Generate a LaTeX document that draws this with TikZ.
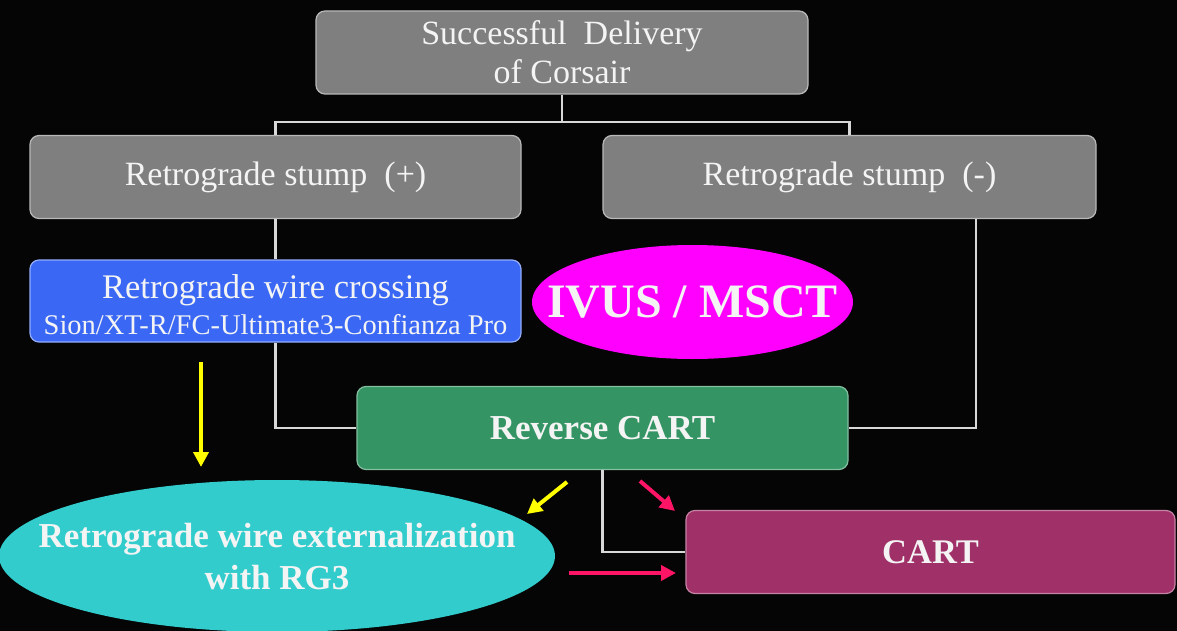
\documentclass[tikz,border=0pt]{standalone}
\usepackage{fontspec}
\setmainfont{Liberation Serif}
\usetikzlibrary{shapes.geometric,arrows.meta}
\definecolor{bg}{HTML}{050505}
\definecolor{boxgray}{HTML}{7F7F7F}
\definecolor{boxblue}{HTML}{3A68F5}
\definecolor{boxgreen}{HTML}{349463}
\definecolor{boxmaroon}{HTML}{A03068}
\definecolor{ellmag}{HTML}{FF00FF}
\definecolor{ellcyan}{HTML}{33CCCC}
\definecolor{txt}{HTML}{F4F4F4}
\definecolor{linecol}{HTML}{D8D8D8}
\definecolor{arryellow}{HTML}{FFFF00}
\definecolor{arrpink}{HTML}{FF1466}
\tikzset{
  rbox/.style={rectangle, rounded corners=9pt, line width=1.2pt, text=txt,
    minimum height=83pt, inner sep=0pt, align=center},
  graybox/.style={rbox, fill=boxgray, draw=boxgray!55!white, minimum width=491pt,
    font=\fontsize{34}{40}\selectfont},
  ell/.style={ellipse, inner sep=0pt, text=txt},
  conn/.style={draw=linecol, line width=2.2pt},
  bigarrow/.style={line width=4pt, -{Triangle[length=15pt,width=15pt]}},
}
\begin{document}
\begin{tikzpicture}[x=1pt,y=-1pt]
\fill[bg] (0,0) rectangle (1177,631);
\useasboundingbox (0,0) rectangle (1177,631);

% nodes
\node[graybox, minimum width=492pt] (top) at (562,52.5)
  {Successful~~Delivery\\[-1pt]of Corsair};
\node[graybox] (stP) at (275.5,177) {Retrograde stump~~(+)};
\node[graybox, minimum width=493pt] (stM) at (849.5,177) {Retrograde stump~~(-)};
\node[rbox, fill=boxblue, draw=boxblue!55!white, minimum width=491pt, minimum height=82pt] (blue) at (275.5,301)
  {\makebox[0pt]{\begin{tabular}{@{}c@{}}\rule{0pt}{34pt}\fontsize{34.5}{36}\selectfont Retrograde wire crossing\\[12pt]
   \fontsize{28.5}{30}\selectfont Sion/XT-R/FC-Ultimate3-Confianza Pro\end{tabular}}};
\node[rbox, fill=boxgreen, draw=boxgreen!60!white, minimum width=491pt,
  font=\fontsize{35}{40}\selectfont\bfseries] (rcart) at (602.5,428) {Reverse CART};
\node[rbox, fill=boxmaroon, draw=boxmaroon!60!white, minimum width=489pt,
  font=\fontsize{34.5}{40}\selectfont\bfseries] (cart) at (930.5,552) {CART};
\node[ell, fill=ellmag, minimum width=321pt, minimum height=114pt,
  font=\fontsize{48}{50}\selectfont\bfseries] (ivus) at (692.5,302) {\makebox[0pt]{IVUS / MSCT}};
\node[ell, fill=ellcyan, minimum width=556pt, minimum height=152pt,
  font=\fontsize{35}{43}\selectfont\bfseries] (ext) at (277,556)
  {\makebox[0pt]{\begin{tabular}{@{}c@{}}\rule{0pt}{37pt}Retrograde wire externalization\\[-1pt] with RG3\end{tabular}}};

% connectors
\coordinate (hub) at (562,122);
\draw[conn] (top.south) -- (hub);
\draw[conn] (hub) -| (stP.north);
\draw[conn] (hub) -| (stM.north);
\draw[conn] (stP.south) -- (blue.north);
\draw[conn] (blue.south) |- (rcart.west);
\draw[conn] ([xshift=-121pt]stM.south east) |- (rcart.east);
\draw[conn] (rcart.south) |- (cart.west);

% arrows
\coordinate (ya1) at (201,362);
\coordinate (ya2) at (201,467);
\coordinate (yb1) at (567,482);
\coordinate (yb2) at (527,514);
\coordinate (pa1) at (640,481);
\coordinate (pa2) at (675,511);
\coordinate (pb1) at (569,573);
\coordinate (pb2) at (676,573);
\draw[bigarrow, draw=arryellow, fill=arryellow] (ya1) -- (ya2);
\draw[bigarrow, draw=arryellow, fill=arryellow] (yb1) -- (yb2);
\draw[bigarrow, draw=arrpink, fill=arrpink] (pa1) -- (pa2);
\draw[bigarrow, draw=arrpink, fill=arrpink] (pb1) -- (pb2);
\end{tikzpicture}
\end{document}
